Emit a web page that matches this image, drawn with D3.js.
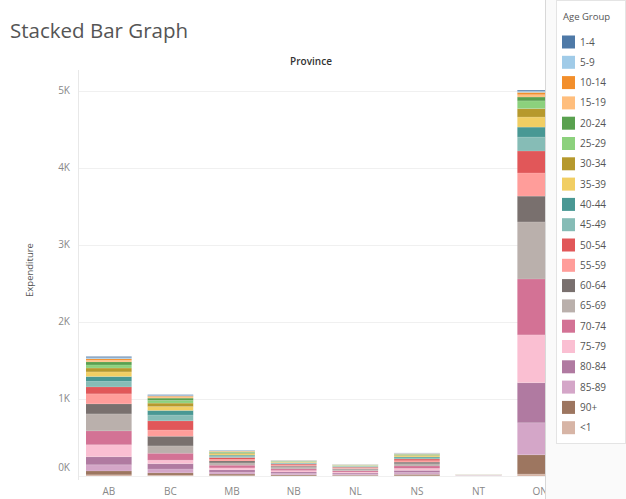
<!DOCTYPE html>
<html>
<head>
<meta charset="utf-8">
<script src="https://cdn.jsdelivr.net/npm/d3@7"></script>
<style>
  body { margin: 0; background: #fff; }
  svg { display: block; font-family: "Open Sans", sans-serif; }
</style>
</head>
<body>
<script>
const width = 626;
const height = 499;

const provinces = ["AB", "BC", "MB", "NB", "NL", "NS", "NT", "ON"];
const ageGroups = ["1-4", "5-9", "10-14", "15-19", "20-24", "25-29", "30-34", "35-39", "40-44", "45-49",
  "50-54", "55-59", "60-64", "65-69", "70-74", "75-79", "80-84", "85-89", "90+", "<1"];
const palette = ["#4e79a7", "#a0cbe8", "#f28e2b", "#ffbe7d", "#59a14f", "#8cd17d", "#b6992d", "#f1ce63",
  "#499894", "#86bcb6", "#e15759", "#ff9d9a", "#79706e", "#bab0ac", "#d37295", "#fabfd2",
  "#b07aa1", "#d4a6c8", "#9d7660", "#d7b5a6"];

// expenditure per age group, same order as ageGroups
const ab = [15, 15, 20, 20, 40, 40, 50, 60, 65, 70, 90, 130, 130, 220, 180, 155, 105, 80, 50, 15];
const bc = [10, 10, 10, 15, 30, 35, 45, 50, 60, 75, 120, 80, 125, 95, 90, 45, 70, 50, 30, 10];
const mb = [5, 5, 5, 5, 10, 10, 10, 15, 15, 15, 25, 20, 25, 30, 35, 25, 30, 25, 20, 5];
const nb = [3, 3, 3, 3, 5, 5, 5, 8, 8, 10, 15, 12, 15, 20, 22, 18, 20, 17, 13, 2];
const nl = [2, 2, 2, 2, 4, 4, 4, 5, 6, 8, 10, 9, 12, 15, 17, 13, 15, 12, 9, 2];
const ns = [4, 4, 4, 4, 7, 8, 10, 12, 12, 14, 22, 18, 22, 28, 32, 25, 28, 24, 18, 3];
const nt = [0, 0, 0, 0, 1, 1, 1, 1, 1, 1, 2, 2, 2, 3, 3, 2, 2, 1, 1, 0];
const on = [15, 15, 30, 30, 50, 100, 110, 130, 130, 180, 285, 300, 335, 740, 725, 620, 520, 415, 250, 25];

const yTicks = [0, 1000, 2000, 3000, 4000, 5000];

const series = [ab, bc, mb, nb, nl, ns, nt, on];
const table = provinces.map((p, i) => {
  const row = { province: p };
  ageGroups.forEach((g, j) => row[g] = series[i][j]);
  return row;
});

const plot = { left: 78, right: 545, top: 70, bottom: 476 };

const svg = d3.select("body").append("svg")
  .attr("width", width)
  .attr("height", height);

svg.append("text")
  .attr("x", 10)
  .attr("y", 38)
  .attr("font-size", 20.5)
  .attr("fill", "#555")
  .text("Stacked Bar Graph");

svg.append("text")
  .attr("x", 311)
  .attr("y", 65)
  .attr("text-anchor", "middle")
  .attr("font-size", 10)
  .attr("font-weight", 600)
  .attr("fill", "#333")
  .text("Province");

const x = d3.scaleBand()
  .domain(provinces)
  .range([78, 571])
  .paddingInner(0.26)
  .paddingOuter(0.13);

const y = d3.scaleLinear()
  .domain([0, 5000])
  .range([476, 90.5]);

const color = d3.scaleOrdinal(ageGroups, palette);

svg.append("defs").append("clipPath")
  .attr("id", "clip")
  .append("rect")
  .attr("x", 0)
  .attr("y", 0)
  .attr("width", plot.right)
  .attr("height", height);

const chart = svg.append("g").attr("clip-path", "url(#clip)");

// gridlines
chart.append("g")
  .selectAll("line")
  .data(yTicks)
  .join("line")
  .attr("x1", plot.left)
  .attr("x2", plot.right)
  .attr("y1", d => Math.round(y(d)) + 0.5)
  .attr("y2", d => Math.round(y(d)) + 0.5)
  .attr("stroke", "#f0f0f0");

chart.append("line")
  .attr("x1", plot.left + 0.5)
  .attr("x2", plot.left + 0.5)
  .attr("y1", plot.top)
  .attr("y2", 480)
  .attr("stroke", "#e8e8e8");

const stack = d3.stack().keys(ageGroups.slice().reverse());
const layers = stack(table);

chart.append("g")
  .selectAll("g")
  .data(layers)
  .join("g")
  .attr("fill", d => color(d.key))
  .selectAll("rect")
  .data(d => d)
  .join("rect")
  .attr("x", d => x(d.data.province))
  .attr("width", x.bandwidth())
  .attr("y", d => y(d[1]))
  .attr("height", d => Math.max(0, y(d[0]) - y(d[1])));

// thin separators between segments, like Tableau's mark borders
chart.append("g")
  .selectAll("g")
  .data(layers)
  .join("g")
  .selectAll("line")
  .data(d => d.filter(v => v[1] - v[0] > 0))
  .join("line")
  .attr("x1", d => x(d.data.province))
  .attr("x2", d => x(d.data.province) + x.bandwidth())
  .attr("y1", d => y(d[1]))
  .attr("y2", d => y(d[1]))
  .attr("stroke", "#fff")
  .attr("stroke-opacity", 0.3)
  .attr("stroke-width", 0.5);

// x labels
chart.append("g")
  .selectAll("text")
  .data(provinces)
  .join("text")
  .attr("x", d => x(d) + x.bandwidth() / 2)
  .attr("y", 495)
  .attr("text-anchor", "middle")
  .attr("font-size", 10)
  .attr("fill", "#888")
  .text(d => d);

// y labels
svg.append("g")
  .selectAll("text")
  .data(yTicks)
  .join("text")
  .attr("x", 70)
  .attr("y", d => d === 0 ? y(d) - 5 : y(d) + 3.5)
  .attr("text-anchor", "end")
  .attr("font-size", 10)
  .attr("fill", "#888")
  .text(d => d3.format("~s")(d).replace("k", "K") + (d === 0 ? "K" : ""));

svg.append("text")
  .attr("transform", "translate(33,270) rotate(-90)")
  .attr("text-anchor", "middle")
  .attr("font-size", 9.5)
  .attr("fill", "#555")
  .text("Expenditure");

// legend panel
svg.append("rect")
  .attr("x", 545)
  .attr("y", 0)
  .attr("width", width - 545)
  .attr("height", height)
  .attr("fill", "#fafafa");

svg.append("line")
  .attr("x1", 545.5)
  .attr("x2", 545.5)
  .attr("y1", 0)
  .attr("y2", height)
  .attr("stroke", "#d8d8d8");

svg.append("rect")
  .attr("x", 556.5)
  .attr("y", 0.5)
  .attr("width", width - 557)
  .attr("height", 443)
  .attr("fill", "#fff")
  .attr("stroke", "#e4e4e4");

const legend = svg.append("g").attr("transform", "translate(562,0)");

legend.append("text")
  .attr("x", 1)
  .attr("y", 20)
  .attr("font-size", 9.5)
  .attr("fill", "#555")
  .text("Age Group");

const item = legend.selectAll("g.item")
  .data(ageGroups)
  .join("g")
  .attr("class", "item")
  .attr("transform", (d, i) => `translate(0,${42 + i * 20.3})`);

item.append("rect")
  .attr("x", 0)
  .attr("y", -6.5)
  .attr("width", 13)
  .attr("height", 13)
  .attr("fill", d => color(d));

item.append("text")
  .attr("x", 18)
  .attr("y", 3.5)
  .attr("font-size", 10)
  .attr("fill", "#555")
  .text(d => d);
</script>
</body>
</html>
